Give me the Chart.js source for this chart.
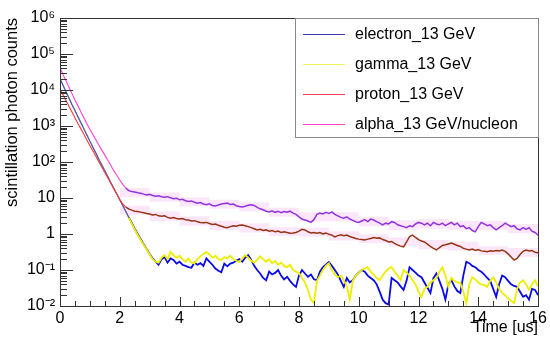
<!DOCTYPE html>
<html>
<head>
<meta charset="utf-8">
<script src="https://cdn.jsdelivr.net/npm/chart.js@4.4.1/dist/chart.umd.min.js"></script>
<style>
  html, body { margin: 0; padding: 0; background: #fff; }
  #wrap { width: 550px; height: 346px; }
</style>
</head>
<body>
<div id="wrap"><canvas id="decayChart" width="550" height="346"></canvas></div>
<script>
// Time bins [us]
const timeUs = [
    0, 0.1, 0.2, 0.3, 0.4, 0.5, 0.6, 0.7, 0.8, 0.9,
    1, 1.1, 1.2, 1.3, 1.4, 1.5, 1.6, 1.7, 1.8, 1.9,
    2, 2.1, 2.2, 2.3, 2.4, 2.5, 2.6, 2.7, 2.8, 2.9,
    3, 3.1, 3.2, 3.3, 3.4, 3.5, 3.6, 3.7, 3.8, 3.9,
    4, 4.1, 4.2, 4.3, 4.4, 4.5, 4.6, 4.7, 4.8, 4.9,
    5, 5.1, 5.2, 5.3, 5.4, 5.5, 5.6, 5.7, 5.8, 5.9,
    6, 6.1, 6.2, 6.3, 6.4, 6.5, 6.6, 6.7, 6.8, 6.9,
    7, 7.1, 7.2, 7.3, 7.4, 7.5, 7.6, 7.7, 7.8, 7.9,
    8, 8.1, 8.2, 8.3, 8.4, 8.5, 8.6, 8.7, 8.8, 8.9,
    9, 9.1, 9.2, 9.3, 9.4, 9.5, 9.6, 9.7, 9.8, 9.9,
    10, 10.1, 10.2, 10.3, 10.4, 10.5, 10.6, 10.7, 10.8, 10.9,
    11, 11.1, 11.2, 11.3, 11.4, 11.5, 11.6, 11.7, 11.8, 11.9,
    12, 12.1, 12.2, 12.3, 12.4, 12.5, 12.6, 12.7, 12.8, 12.9,
    13, 13.1, 13.2, 13.3, 13.4, 13.5, 13.6, 13.7, 13.8, 13.9,
    14, 14.1, 14.2, 14.3, 14.4, 14.5, 14.6, 14.7, 14.8, 14.9,
    15, 15.1, 15.2, 15.3, 15.4, 15.5, 15.6, 15.7, 15.8, 15.9,
    16
];

// Scintillation photon counts per bin
const electronCounts = [
    20400, 13500, 8900, 6030, 3980, 2690, 1820, 1230, 832, 562,
    380, 257, 178, 120, 83, 57.5, 39.8, 26.9, 18.6, 12.9,
    8.9, 6.2, 4.3, 2.95, 2.04, 1.41, 1.0, 0.72, 0.52, 0.38,
    0.28, 0.21, 0.17, 0.14, 0.2, 0.23, 0.16, 0.21, 0.19, 0.15,
    0.17, 0.14, 0.13, 0.12, 0.115, 0.16, 0.14, 0.155, 0.13, 0.21,
    0.17, 0.14, 0.11, 0.095, 0.087, 0.15, 0.126, 0.15, 0.16, 0.18,
    0.2, 0.17, 0.22, 0.26, 0.19, 0.13, 0.1, 0.08, 0.06, 0.052,
    0.09, 0.075, 0.083, 0.1, 0.07, 0.055, 0.065, 0.05, 0.04, 0.034,
    0.07, 0.1, 0.08, 0.065, 0.075, 0.055, 0.052, 0.09, 0.12, 0.14,
    0.166, 0.13, 0.1, 0.075, 0.05, 0.034, 0.06, 0.045, 0.052, 0.07,
    0.085, 0.1, 0.09, 0.07, 0.06, 0.052, 0.04, 0.025, 0.015, 0.012,
    0.011, 0.06, 0.052, 0.045, 0.035, 0.028, 0.05, 0.12, 0.1, 0.085,
    0.07, 0.063, 0.045, 0.032, 0.023, 0.06, 0.08, 0.05, 0.03, 0.015,
    0.04, 0.052, 0.035, 0.026, 0.023, 0.07, 0.17, 0.155, 0.13, 0.12,
    0.1, 0.09, 0.075, 0.06, 0.05, 0.03, 0.018, 0.04, 0.07, 0.063,
    0.05, 0.04, 0.036, 0.034, 0.025, 0.018, 0.02, 0.015, 0.03, 0.028,
    0.02
];

const gammaCounts = [
    20400, 13500, 8900, 6030, 3980, 2690, 1820, 1230, 832, 562,
    380, 257, 178, 120, 83, 57.5, 39.8, 26.9, 18.6, 12.9,
    8.9, 6.2, 4.3, 2.85, 1.95, 1.35, 0.95, 0.68, 0.5, 0.37,
    0.27, 0.2, 0.17, 0.16, 0.22, 0.26, 0.2, 0.32, 0.26, 0.22,
    0.25, 0.2, 0.17, 0.21, 0.16, 0.155, 0.2, 0.24, 0.28, 0.32,
    0.27, 0.22, 0.25, 0.2, 0.19, 0.23, 0.21, 0.25, 0.2, 0.18,
    0.166, 0.21, 0.26, 0.22, 0.18, 0.16, 0.19, 0.24, 0.2, 0.17,
    0.2, 0.155, 0.18, 0.14, 0.16, 0.13, 0.12, 0.14, 0.1, 0.09,
    0.083, 0.06, 0.045, 0.028, 0.015, 0.012, 0.05, 0.07, 0.1, 0.13,
    0.155, 0.1, 0.075, 0.063, 0.07, 0.052, 0.035, 0.015, 0.05, 0.07,
    0.083, 0.1, 0.11, 0.12, 0.09, 0.075, 0.06, 0.052, 0.07, 0.09,
    0.11, 0.12, 0.09, 0.07, 0.052, 0.1, 0.085, 0.07, 0.052, 0.04,
    0.025, 0.018, 0.03, 0.034, 0.045, 0.052, 0.06, 0.09, 0.12, 0.07,
    0.034, 0.06, 0.05, 0.045, 0.044, 0.025, 0.012, 0.04, 0.063, 0.055,
    0.045, 0.04, 0.038, 0.034, 0.05, 0.063, 0.045, 0.03, 0.023, 0.02,
    0.016, 0.014, 0.012, 0.03, 0.045, 0.052, 0.04, 0.028, 0.04, 0.052,
    0.035
];

const protonCounts = [
    10700, 7410, 5130, 3550, 2450, 1700, 1175, 832, 589, 407,
    288, 204, 145, 102, 72.4, 51.3, 36.3, 25.7, 18.2, 12.9,
    9.1, 6.9, 5.6, 5.0, 4.6, 4.3, 4.2, 4.05, 3.9, 3.7,
    3.6, 3.4, 3.5, 3.2, 3.1, 3.2, 2.9, 2.75, 2.85, 2.7,
    2.6, 2.7, 2.5, 2.45, 2.3, 2.35, 2.2, 2.1, 2.04, 2.1,
    1.95, 1.85, 1.9, 1.75, 1.65, 1.55, 1.5, 1.6, 1.7, 1.65,
    1.75, 1.78, 1.7, 1.6, 1.5, 1.4, 1.3, 1.35, 1.25, 1.3,
    1.2, 1.25, 1.15, 1.2, 1.1, 1.15, 1.1, 1.05, 1.07, 1.1,
    1.2, 1.35, 1.3, 1.15, 1.07, 1.1, 1.05, 1.1, 1.0, 1.07,
    0.98, 0.93, 0.83, 0.9, 0.95, 0.9, 0.93, 0.85, 0.8, 0.75,
    0.72, 0.7, 0.68, 0.72, 0.75, 0.8, 0.76, 0.78, 0.7, 0.66,
    0.6, 0.62, 0.55, 0.5, 0.46, 0.44, 0.6, 0.85, 0.93, 0.8,
    0.7, 0.64, 0.6, 0.52, 0.45, 0.4, 0.36, 0.42, 0.48, 0.5,
    0.53, 0.56, 0.52, 0.48, 0.45, 0.4, 0.38, 0.36, 0.38, 0.35,
    0.37, 0.34, 0.33, 0.32, 0.34, 0.33, 0.35, 0.34, 0.36, 0.33,
    0.28, 0.23, 0.19, 0.21, 0.27, 0.33, 0.36, 0.34, 0.35, 0.31,
    0.3
];

const alphaCounts = [
    40700, 26900, 18200, 12000, 7940, 5250, 3630, 2450, 1700, 1150,
    813, 575, 417, 295, 214, 155, 112, 81, 57.5, 42.7,
    31.6, 24, 19, 16.0, 15.2, 14.6, 14.0, 13.5, 12.8, 12.2,
    12.6, 11.8, 11.2, 11.6, 10.9, 10.5, 10.9, 10.2, 9.6, 9.9,
    8.9, 9.2, 8.4, 8.0, 8.3, 7.6, 7.2, 7.5, 6.8, 6.5,
    6.9, 6.2, 6.0, 6.4, 6.8, 7.0, 7.2, 6.6, 6.8, 6.1,
    5.8, 5.6, 5.9, 6.3, 6.5, 6.2, 5.5, 5.0, 4.7, 4.3,
    4.1, 4.4, 4.0, 4.3, 3.9, 4.2, 4.0, 4.3, 3.8, 3.5,
    3.0, 2.6, 2.45, 2.3, 2.1, 2.5, 3.5, 3.8, 3.6, 4.0,
    3.7, 4.1, 3.5, 3.2, 2.9, 2.75, 3.0, 2.6, 2.4, 2.2,
    2.1, 2.3, 2.5, 2.2, 2.6, 2.45, 2.2, 2.0, 1.8, 2.0,
    1.9, 2.2, 2.1, 1.8, 1.7, 1.6, 1.5, 1.7, 1.6, 1.9,
    2.1, 2.0, 1.8, 2.0, 1.7, 2.1, 1.9, 1.8, 2.0, 1.7,
    1.9, 2.1, 1.8, 2.0, 1.6, 1.7, 1.4, 1.5, 1.25, 1.15,
    1.6, 2.1, 1.9, 1.7, 1.8, 1.5, 1.3, 1.5, 1.7, 2.0,
    1.8, 1.6, 1.7, 1.4, 1.3, 1.5, 1.35, 1.5, 1.2, 1.1,
    0.93
];

// Error bands (pink boxes) around proton and alpha tails
const bandTimeUs = [2, 3, 4, 5, 6, 7, 8, 9, 10, 11, 12, 13, 14, 15, 16];
const alphaBandLo = [10.5, 7.9, 5.9, 5.0, 4.2, 3.0, 2.25, 2.25, 1.65, 1.3, 1.4, 1.3, 1.3, 1.05, 1.05];
const alphaBandHi = [19, 14.2, 10.5, 8.9, 7.6, 5.4, 4.05, 4.05, 3.0, 2.4, 2.6, 2.3, 2.3, 1.9, 1.9];
const protonBandLo = [3.4, 2.3, 1.7, 1.3, 1.1, 0.86, 0.84, 0.66, 0.55, 0.45, 0.38, 0.34, 0.26, 0.23, 0.23];
const protonBandHi = [6.1, 4.2, 3.1, 2.3, 2.0, 1.55, 1.5, 1.2, 0.99, 0.81, 0.68, 0.61, 0.46, 0.41, 0.41];

const seriesNames = ['electron_13 GeV', 'gamma_13 GeV', 'proton_13 GeV', 'alpha_13 GeV/nucleon'];
const legendColors = ['#3c3ca8', '#f2f25a', '#ff3c55', '#ff48d0'];

const yTickValues = [0.01, 0.1, 1, 10, 100, 1000, 10000, 100000, 1000000];
const yTickLabels = ['10\u207B\u00B2', '10\u207B\u00B9', '1', '10', '10\u00B2', '10\u00B3', '10\u2074', '10\u2075', '10\u2076'];

const FONT = "'Liberation Sans', Arial, Helvetica, sans-serif";

const toPoints = (xs, ys) => xs.map((t, i) => ({ x: t, y: ys[i] }));

// colour (and width) the fast decay part and the noisy tail differently
const splitStyle = (decayColor, tailColor, knee, tailWidth) => ({
    borderColor: (ctx) => ctx.p0.parsed.x < knee ? decayColor : tailColor,
    borderWidth: (ctx) => ctx.p0.parsed.x < knee ? 1.1 : tailWidth
});

function lineSet(label, values, decayColor, tailColor, knee, tailWidth, order) {
    return {
        label: label,
        data: toPoints(timeUs, values),
        borderColor: tailColor,
        segment: splitStyle(decayColor, tailColor, knee, tailWidth),
        borderWidth: tailWidth,
        pointRadius: 0,
        tension: 0,
        fill: false,
        order: order
    };
}

function bandSet(label, values, fillTo) {
    return {
        label: label,
        data: toPoints(bandTimeUs, values),
        borderWidth: 0,
        borderColor: 'rgba(0,0,0,0)',
        backgroundColor: 'rgba(250, 208, 245, 0.5)',
        pointRadius: 0,
        stepped: true,
        fill: fillTo,
        order: 10
    };
}

// ROOT style frame, inner tick marks and boxed legend
const rootDecor = {
    id: 'rootDecor',
    afterDatasetsDraw(chart) {
        const { ctx, chartArea: a, scales } = chart;
        const x = scales.x, y = scales.y;
        ctx.save();
        ctx.strokeStyle = '#333';
        ctx.lineWidth = 1;
        ctx.beginPath();
        for (let k = 0; k <= 32; k++) {
            const t = k * 0.5;
            const px = Math.round(x.getPixelForValue(t)) + 0.5;
            const len = (k % 4 === 0) ? 9 : 5;
            ctx.moveTo(px, a.bottom);
            ctx.lineTo(px, a.bottom - len);
        }
        for (let e = -2; e <= 6; e++) {
            for (let m = 1; m <= 9; m++) {
                if (e === 6 && m > 1) break;
                const v = m * Math.pow(10, e);
                const py = Math.round(y.getPixelForValue(v)) + 0.5;
                const len = m === 1 ? 13 : 7;
                ctx.moveTo(a.left, py);
                ctx.lineTo(a.left + len, py);
            }
        }
        ctx.stroke();

        // frame
        ctx.strokeStyle = '#333';
        ctx.strokeRect(Math.round(a.left) + 0.5, Math.round(a.top) + 0.5,
            Math.round(a.right - a.left), Math.round(a.bottom - a.top));

        // legend box
        const lx = 295, ly = Math.round(a.top), lw = Math.round(a.right) - 295, lh = 119;
        ctx.fillStyle = '#fff';
        ctx.fillRect(lx, ly, lw, lh);
        ctx.strokeStyle = '#8a8a8a';
        ctx.strokeRect(lx + 0.5, ly + 0.5, lw, lh);
        ctx.font = '16px ' + FONT;
        ctx.textBaseline = 'middle';
        ctx.textAlign = 'left';
        seriesNames.forEach((name, i) => {
            const cy = ly + 16 + i * 30;
            ctx.strokeStyle = legendColors[i];
            ctx.lineWidth = 1;
            ctx.beginPath();
            ctx.moveTo(303, cy + 0.5);
            ctx.lineTo(345, cy + 0.5);
            ctx.stroke();
            ctx.fillStyle = '#000';
            ctx.fillText(name, 355, cy + 1);
        });
        ctx.restore();
    }
};

const chart = new Chart(document.getElementById('decayChart').getContext('2d'), {
    type: 'line',
    data: {
        datasets: [
            bandSet('alpha band lo', alphaBandLo, false),
            bandSet('alpha band hi', alphaBandHi, '-1'),
            bandSet('proton band lo', protonBandLo, false),
            bandSet('proton band hi', protonBandHi, '-1'),
            lineSet(seriesNames[0], electronCounts, '#5a62a6', '#0a0ae6', 2.3, 1.8, 3),
            lineSet(seriesNames[1], gammaCounts, '#5a62a6', '#eeee00', 2.3, 1.8, 2),
            lineSet(seriesNames[2], protonCounts, '#ff3535', '#963414', 2.2, 1.5, 1),
            lineSet(seriesNames[3], alphaCounts, '#ff40d0', '#9433dd', 2.2, 1.5, 0)
        ]
    },
    options: {
        responsive: false,
        animation: false,
        devicePixelRatio: 1,
        layout: { padding: { top: 18, right: 12, left: 0, bottom: 0 } },
        plugins: {
            legend: { display: false },
            tooltip: { enabled: false }
        },
        scales: {
            x: {
                type: 'linear',
                min: 0,
                max: 16,
                grid: { display: false, drawTicks: false },
                border: { display: true, color: '#333' },
                ticks: {
                    stepSize: 2,
                    autoSkip: false,
                    maxRotation: 0,
                    padding: 3,
                    color: '#000',
                    font: { family: FONT, size: 16 }
                },
                title: {
                    display: true,
                    text: 'Time [us]',
                    align: 'end',
                    color: '#000',
                    padding: { top: 9, bottom: 9 },
                    font: { family: FONT, size: 16 }
                },
                afterFit: (scale) => { scale.height = 40; }
            },
            y: {
                type: 'logarithmic',
                min: 0.01,
                max: 1000000,
                grid: { display: false, drawTicks: false },
                border: { display: true, color: '#333' },
                afterBuildTicks: (scale) => {
                    scale.ticks = yTickValues.map(v => ({ value: v }));
                },
                ticks: {
                    autoSkip: false,
                    padding: 5,
                    color: '#000',
                    font: { family: FONT, size: 16 },
                    callback: (value, index) => yTickLabels[index]
                },
                title: {
                    display: true,
                    text: 'scintillation photon counts',
                    align: 'end',
                    color: '#000',
                    padding: { top: 3, bottom: 3 },
                    font: { family: FONT, size: 16.5 }
                },
                afterFit: (scale) => { scale.width = 60; }
            }
        }
    },
    plugins: [rootDecor]
});
</script>
</body>
</html>
